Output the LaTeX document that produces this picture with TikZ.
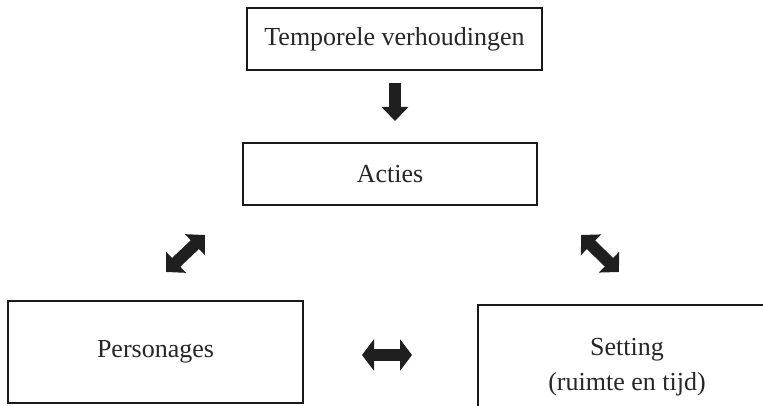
\documentclass[tikz,border=0pt]{standalone}
\usepackage{fontspec}
\setmainfont{Liberation Serif}
\usetikzlibrary{arrows.meta}
\begin{document}
\begin{tikzpicture}[x=1pt,y=-1pt,
  box/.style={draw=black!90, line width=2.8pt, inner sep=0pt, font=\fontsize{26}{35}\selectfont, align=center, text=black!85},
  blockarrow/.style={line width=12pt, draw=black!88, {Triangle[width=28pt,length=14pt]}-{Triangle[width=28pt,length=14pt]}},
  onearrow/.style={line width=12pt, draw=black!88, -{Triangle[width=26pt,length=14pt]}}]
\useasboundingbox (0,0) rectangle (763,406);
\clip (0,0) rectangle (763,406);
\node[box, minimum width=295pt, minimum height=62pt] (tv) at (394.5,39) {Temporele verhoudingen};
\node[box, minimum width=294pt, minimum height=62pt] (ac) at (390,174) {Acties};
\node[box, minimum width=295pt, minimum height=102pt] (pe) at (155.5,352) {Personages};
\node[box, minimum width=298pt, minimum height=124pt] (se) at (627,367) {Setting\\(ruimte en tijd)};
\coordinate (d1) at (395,83);
\coordinate (d2) at (395,121);
\draw[onearrow] (d1) -- (d2);
\coordinate (l1) at (166,272);
\coordinate (l2) at (205,235);
\draw[blockarrow] (l1) -- (l2);
\coordinate (r1) at (581,235);
\coordinate (r2) at (619,272);
\draw[blockarrow] (r1) -- (r2);
\coordinate (h1) at (362,355);
\coordinate (h2) at (412,355);
\draw[blockarrow, {Triangle[width=31pt,length=12pt]}-{Triangle[width=31pt,length=12pt]}] (h1) -- (h2);
\end{tikzpicture}
\end{document}
